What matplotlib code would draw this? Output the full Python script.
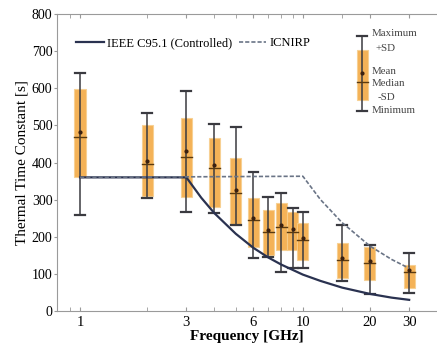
import numpy as np
import matplotlib
matplotlib.use('Agg')
import matplotlib.pyplot as plt
from matplotlib.ticker import FixedLocator, NullFormatter

plt.rcParams['font.family'] = ['Liberation Serif', 'DejaVu Serif']

# measured thermal time constants per frequency [GHz]
freq = [1, 2, 3, 4, 5, 6, 7, 8, 9, 10, 15, 20, 30]
t_max = [641, 533, 593, 504, 496, 374, 307, 318, 277, 267, 232, 178, 156]
t_sd_hi = [598, 501, 520, 466, 412, 304, 272, 291, 267, 237, 183, 172, 124]
t_mean = [482, 405, 432, 392, 325, 250, 218, 232, 220, 196, 142, 134, 110]
t_median = [470, 395, 415, 385, 318, 245, 213, 226, 213, 191, 137, 129, 105]
t_sd_lo = [361, 310, 308, 280, 232, 172, 151, 164, 164, 137, 89, 83, 62]
t_min = [258, 304, 267, 264, 232, 143, 145, 105, 116, 116, 80, 46, 48]

# guideline averaging times
ieee_f = [1, 3, 3.5, 4, 5, 6, 7, 8, 10, 12, 15, 20, 25, 30]
ieee_t = [360, 360, 305, 264, 208, 170, 144, 125, 98, 81, 63, 46, 36, 30]
icnirp_f = [1, 10, 12, 15, 20, 25, 30]
icnirp_t = [360, 363, 300, 238, 175, 139, 115]

fig = plt.figure(figsize=(4.37, 3.51), dpi=100)
ax = fig.add_axes([0.131, 0.114, 0.869, 0.846])

box_c = '#f3a53a'
whisk_c = '#3a3a40'
hw = 0.025  # half width of boxes in decades

for i, f in enumerate(freq):
    l, r = f * 10**(-hw), f * 10**hw
    cl, cr = f * 10**(-0.022), f * 10**0.022
    ax.fill_between([l, r], t_sd_lo[i], t_sd_hi[i], color=box_c, alpha=0.85,
                    lw=0.8, edgecolor='#f7cf8f', zorder=2)
    ax.plot([f, f], [t_min[i], t_max[i]], color=whisk_c, lw=1.1, zorder=3)
    ax.plot([cl, cr], [t_max[i], t_max[i]], color=whisk_c, lw=1.6, zorder=3)
    ax.plot([cl, cr], [t_min[i], t_min[i]], color=whisk_c, lw=1.6, zorder=3)
    ax.plot([l, r], [t_median[i], t_median[i]], color='#5a3a10', lw=1.0, zorder=4)
    ax.plot(f, t_mean[i], 'o', color='#3a2010', ms=2.0, zorder=4)

ax.plot(ieee_f, ieee_t, color='#2a3250', lw=1.6, label='IEEE C95.1 (Controlled)', zorder=5)
ax.plot(icnirp_f, icnirp_t, color='#6a7486', lw=1.2, ls=(0, (2.5, 1.2)), label='ICNIRP', zorder=5)

# box legend drawn inside axes
lf = 18.5
lv = [742, 702, 640, 616, 568, 540]
ax.fill_between([lf * 10**(-hw), lf * 10**hw], lv[4], lv[1], color=box_c, alpha=0.85,
                lw=0.8, edgecolor='#f7cf8f', zorder=2)
ax.plot([lf, lf], [lv[5], lv[0]], color=whisk_c, lw=1.1)
ax.plot([lf * 10**-0.022, lf * 10**0.022], [lv[0], lv[0]], color=whisk_c, lw=1.6)
ax.plot([lf * 10**-0.022, lf * 10**0.022], [lv[5], lv[5]], color=whisk_c, lw=1.6)
ax.plot([lf * 10**-hw, lf * 10**hw], [lv[3], lv[3]], color='#5a3a10', lw=1.0)
ax.plot(lf, lv[2], 'o', color='#3a2010', ms=2.0)
tx = lf * 10**0.04
for lab, yv, dx in [('Maximum', 748, 0), ('+SD', 708, 0.02), ('Mean', 645, 0),
                    ('Median', 612, 0), ('-SD', 576, 0.03), ('Minimum', 540, 0)]:
    ax.text(tx * 10**dx, yv, lab, fontsize=7.8, va='center', color='#444')

ax.set_xscale('log')
ax.set_xlim(0.79, 40)
ax.set_ylim(0, 800)
ax.xaxis.set_major_locator(FixedLocator([1, 3, 6, 10, 20, 30]))
ax.set_xticklabels(['1', '3', '6', '10', '20', '30'])
ax.xaxis.set_minor_locator(FixedLocator([0.9, 2, 4, 5, 7, 8, 9, 15]))
ax.xaxis.set_minor_formatter(NullFormatter())
ax.set_yticks(np.arange(0, 801, 100))
ax.tick_params(axis='x', which='both', direction='in', top=True, color='#999',
               labelsize=10.5, length=3)
ax.tick_params(axis='y', direction='out', right=True, color='#999', labelsize=10,
               length=2.5, pad=1)
for s in ['left', 'top', 'bottom']:
    ax.spines[s].set_color('#9a9a9a')
    ax.spines[s].set_linewidth(0.8)
ax.spines['right'].set_visible(False)

ax.set_xlabel('Frequency [GHz]', fontsize=11, fontweight='bold', labelpad=1)
ax.set_ylabel('Thermal Time Constant [s]', fontsize=11, labelpad=2)

ax.legend(loc='upper left', ncol=2, frameon=False, fontsize=9, handlelength=2.2,
          columnspacing=0.5, handletextpad=0.3, bbox_to_anchor=(0.02, 0.96))

plt.savefig('out.png', dpi=100)
